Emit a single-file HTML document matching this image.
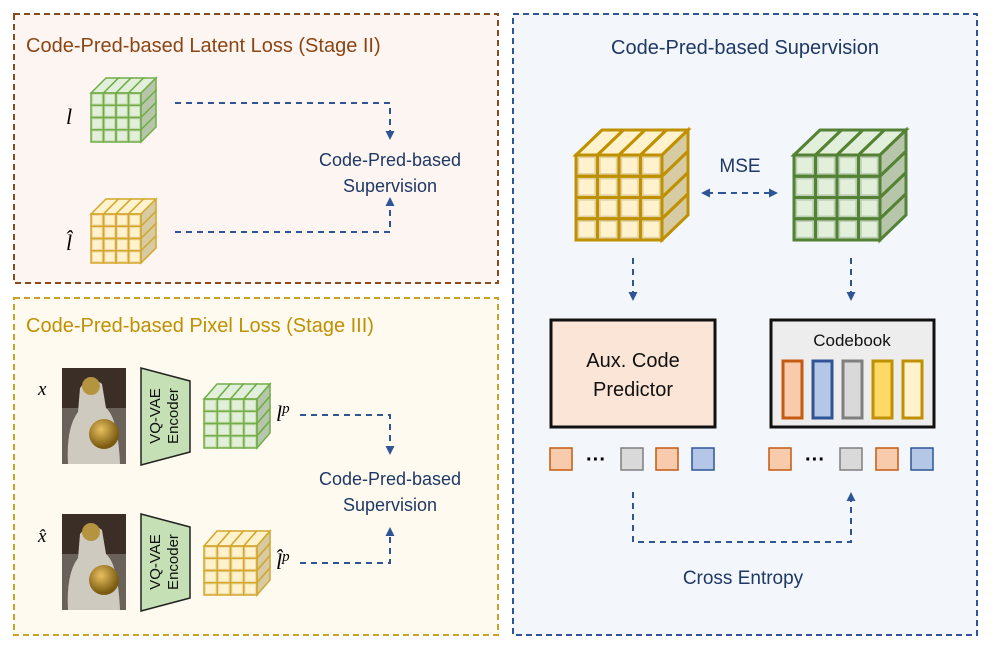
<!DOCTYPE html>
<html><head><meta charset="utf-8"><style>
body{margin:0;background:#fff}
svg text{font-family:"Liberation Sans",sans-serif}
.m{font-family:"Liberation Serif",serif;font-style:italic}
</style></head><body>
<svg id="s" width="996" height="652" viewBox="0 0 996 652" xmlns="http://www.w3.org/2000/svg">
<defs>
<marker id="a" markerWidth="9" markerHeight="9" refX="7" refY="4.5" orient="auto" markerUnits="userSpaceOnUse"><path d="M0,0 L9,4.5 L0,9 z" fill="#2f5597"/></marker>
<radialGradient id="gold" cx="0.4" cy="0.35" r="0.6"><stop offset="0" stop-color="#e8c060"/><stop offset="1" stop-color="#7a5a10"/></radialGradient>
<g id="img">
<rect x="0" y="0" width="64" height="96" fill="#3a2e26"/>
<rect x="0" y="40" width="64" height="56" fill="#6a625a"/>
<path d="M18,20 Q28,6 40,16 L44,40 Q56,50 58,96 L6,96 Q4,60 16,44 Z" fill="#cfcac0"/>
<circle cx="29" cy="18" r="9" fill="#b59440"/>
<circle cx="42" cy="66" r="15" fill="url(#gold)"/>
</g>
</defs>
<rect x="14" y="14" width="484" height="269" fill="#fdf5f2" stroke="#8b4a1c" stroke-width="2" stroke-dasharray="6,4"/>
<rect x="14" y="298" width="484" height="337" fill="#fefaf0" stroke="#c9a227" stroke-width="2" stroke-dasharray="6,4"/>
<rect x="513" y="14" width="464" height="621" fill="#f3f6fb" stroke="#2f5597" stroke-width="2" stroke-dasharray="6,4"/>
<text x="26" y="52" font-size="20" fill="#8b4513">Code-Pred-based Latent Loss (Stage II)</text>
<text x="26" y="332" font-size="20" fill="#bf9000">Code-Pred-based Pixel Loss (Stage III)</text>
<text x="745" y="54" font-size="20" fill="#1f3864" text-anchor="middle">Code-Pred-based Supervision</text>
<g id="cubes"></g>
<g fill="none" stroke="#2f5597" stroke-width="2" stroke-dasharray="6,5">
<path d="M175,103 H390 V138" marker-end="url(#a)"/>
<path d="M175,232 H390 V199" marker-end="url(#a)"/>
<path d="M300,415 H390 V453" marker-end="url(#a)"/>
<path d="M300,563 H390 V529" marker-end="url(#a)"/>
<path d="M633,258 V299" marker-end="url(#a)"/>
<path d="M851,258 V299" marker-end="url(#a)"/>
<path d="M720,193 H776" marker-end="url(#a)"/>
<path d="M724,193 H703" marker-end="url(#a)"/>
<path d="M633,492 V542 H851 V494" marker-end="url(#a)"/>
</g>
<g font-size="18" fill="#1f3864" text-anchor="middle">
<text x="390" y="166">Code-Pred-based</text><text x="390" y="192">Supervision</text>
<text x="390" y="485">Code-Pred-based</text><text x="390" y="511">Supervision</text>
<text x="740" y="172" font-size="19">MSE</text>
<text x="743" y="584" font-size="19">Cross Entropy</text>
</g>
<text class="m" x="66" y="124" font-size="22">l</text>
<text class="m" x="66" y="250" font-size="22">l̂</text>
<text class="m" x="38" y="395" font-size="19">x</text>
<text class="m" x="38" y="542" font-size="19">x̂</text>
<text class="m" x="276" y="421" font-size="22">l<tspan font-size="15" dy="-8">p</tspan></text>
<text class="m" x="276" y="569" font-size="22">l̂<tspan font-size="15" dy="-8">p</tspan></text>
<use href="#img" x="62" y="368"/>
<use href="#img" x="62" y="514"/>
<g fill="#c5e0b4" stroke="#222" stroke-width="1.5">
<path d="M141,368 L190,381 L190,452 L141,465 Z"/>
<path d="M141,514 L190,527 L190,598 L141,611 Z"/>
</g>
<g font-size="15" fill="#111" text-anchor="middle">
<text transform="translate(160,416) rotate(-90)">VQ-VAE</text>
<text transform="translate(178,416) rotate(-90)">Encoder</text>
<text transform="translate(160,562) rotate(-90)">VQ-VAE</text>
<text transform="translate(178,562) rotate(-90)">Encoder</text>
</g>
<rect x="551" y="320" width="164" height="107" fill="#fbe5d6" stroke="#111" stroke-width="3"/>
<text x="633" y="367" font-size="20" text-anchor="middle" fill="#111">Aux. Code</text>
<text x="633" y="396" font-size="20" text-anchor="middle" fill="#111">Predictor</text>
<rect x="771" y="320" width="163" height="107" fill="#ededed" stroke="#111" stroke-width="3"/>
<text x="852" y="346" font-size="17" text-anchor="middle" fill="#111">Codebook</text>
<g stroke-width="3">
<rect x="783" y="361" width="19" height="57" fill="#f8cbad" stroke="#c55a11"/>
<rect x="813" y="361" width="19" height="57" fill="#b4c7e7" stroke="#2f5597"/>
<rect x="843" y="361" width="19" height="57" fill="#d9d9d9" stroke="#7f7f7f"/>
<rect x="873" y="361" width="19" height="57" fill="#ffd966" stroke="#bf9000"/>
<rect x="903" y="361" width="19" height="57" fill="#fff2cc" stroke="#bf9000"/>
</g>
<g stroke-width="1.5">
<rect x="550" y="448" width="22" height="22" fill="#f8cbad" stroke="#c55a11"/>
<rect x="621" y="448" width="22" height="22" fill="#d9d9d9" stroke="#7f7f7f"/>
<rect x="656" y="448" width="22" height="22" fill="#f8cbad" stroke="#c55a11"/>
<rect x="692" y="448" width="22" height="22" fill="#b4c7e7" stroke="#2f5597"/>
<rect x="769" y="448" width="22" height="22" fill="#f8cbad" stroke="#c55a11"/>
<rect x="840" y="448" width="22" height="22" fill="#d9d9d9" stroke="#7f7f7f"/>
<rect x="876" y="448" width="22" height="22" fill="#f8cbad" stroke="#c55a11"/>
<rect x="911" y="448" width="22" height="22" fill="#b4c7e7" stroke="#2f5597"/>
</g>
<text x="596" y="466" font-size="20" text-anchor="middle" font-weight="bold">···</text>
<text x="815" y="466" font-size="20" text-anchor="middle" font-weight="bold">···</text>
</svg>
<script>
(function(){
var g=document.getElementById('cubes'),h='';
function cube(x,y,w,hh,dx,dy,fill,stroke,side,sw){
 var c=w/4,r=hh/4;
 for(var i=0;i<4;i++){var x0=x+i*c;h+='<path d="M'+x0+','+y+' L'+(x0+dx)+','+(y-dy)+' L'+(x0+c+dx)+','+(y-dy)+' L'+(x0+c)+','+y+' Z" fill="'+fill+'" stroke="'+stroke+'" stroke-width="'+sw+'"/>';}
 for(var j=0;j<4;j++){var y0=y+j*r;h+='<path d="M'+(x+w)+','+y0+' L'+(x+w+dx)+','+(y0-dy)+' L'+(x+w+dx)+','+(y0+r-dy)+' L'+(x+w)+','+(y0+r)+' Z" fill="'+side+'" stroke="'+stroke+'" stroke-width="'+sw+'"/>';}
 for(var i=0;i<4;i++)for(var j=0;j<4;j++){h+='<rect x="'+(x+i*c)+'" y="'+(y+j*r)+'" width="'+c+'" height="'+r+'" fill="'+stroke+'" fill-opacity="0.35" stroke="'+stroke+'" stroke-width="'+sw+'"/>';h+='<rect x="'+(x+i*c+c*0.15)+'" y="'+(y+j*r+r*0.15)+'" width="'+(c*0.7)+'" height="'+(r*0.7)+'" fill="'+fill+'"/>';}
}
var Y=['#fff2cc','#bf9000','#d6cba3'],G=['#e2efda','#548235','#b7c6aa'];
cube(91,93,50,49,15,15,G[0],'#70ad47',G[2],1.5);
cube(91,214,50,49,15,15,Y[0],'#d4a62a',Y[2],1.5);
cube(204,399,53,49,13,15,G[0],'#70ad47',G[2],1.5);
cube(204,546,53,49,13,15,Y[0],'#d4a62a',Y[2],1.5);
cube(576,155,86,85,26,25,Y[0],Y[1],Y[2],3);
cube(794,155,86,85,26,25,G[0],G[1],G[2],3);
g.innerHTML=h;
})();
</script>
</body></html>
